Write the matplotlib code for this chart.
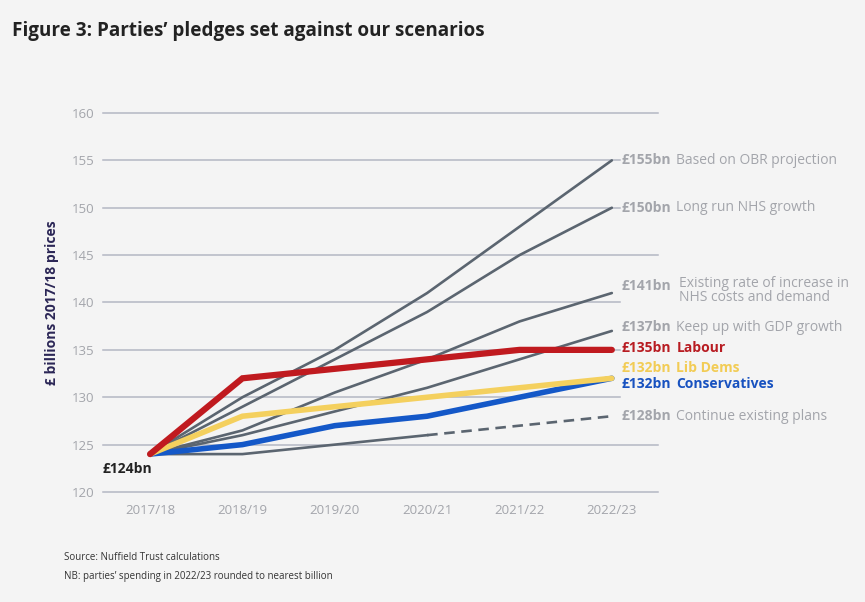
import matplotlib
matplotlib.use("Agg")
from matplotlib import pyplot as plt

years = ["2017/18", "2018/19", "2019/20", "2020/21", "2021/22", "2022/23"]

obr = [124, 130, 135, 141, 148, 155]
long_run = [124, 129, 134, 139, 145, 150]
existing_rate = [124, 126.5, 130.5, 134, 138, 141]
gdp = [124, 126, 128.5, 131, 134, 137]
continue_plans = [124, 124, 125, 126, 127, 128]
labour = [124, 132, 133, 134, 135, 135]
lib_dems = [124, 128, 129, 130, 131, 132]
conservatives = [124, 125, 127, 128, 130, 132]

yticks = [120, 125, 130, 135, 140, 145, 150, 155, 160]

bg = "#f4f4f4"
grey_line = "#5b6570"
grid_col = "#b4b7c3"
label_grey = "#a3a5ab"

plt.rcParams["font.family"] = ["Open Sans", "DejaVu Sans"]

fig = plt.figure(figsize=(8.65, 6.02), dpi=100, facecolor=bg)
ax = fig.add_axes([103 / 865, 110 / 602, 555 / 865, 379 / 602], facecolor=bg)

x = list(range(len(years)))

# gridlines - some are hidden behind the end labels
short = (130, 135, 140, 150, 155)
for y in yticks:
    ax.axhline(y, xmin=0, xmax=(517 / 555 if y in short else 1), color=grid_col,
               lw=1.1, zorder=0, clip_on=False)

# scenario lines
for series in [obr, long_run, existing_rate, gdp]:
    ax.plot(x, series, color=grey_line, lw=1.9, zorder=2, solid_capstyle="round")
ax.plot(x[:4], continue_plans[:4], color=grey_line, lw=1.9, zorder=2)
ax.plot(x[3:], continue_plans[3:], color=grey_line, lw=1.9, zorder=2, ls=(0, (4, 2.5)))

# party pledges
ax.plot(x, conservatives, color="#1458c8", lw=4, zorder=3, solid_capstyle="round")
ax.plot(x, lib_dems, color="#f4d05e", lw=4, zorder=4, solid_capstyle="round")
ax.plot(x, labour, color="#c01a1f", lw=4.5, zorder=5, solid_capstyle="round",
        solid_joinstyle="miter")

ax.set_xlim(-0.51, 5.5)
ax.set_ylim(120, 160)
ax.set_xticks(x)
ax.set_xticklabels(years)
ax.set_yticks(yticks)
ax.tick_params(axis="both", length=0, colors=label_grey, labelsize=9.5)
ax.tick_params(axis="x", pad=9)
ax.tick_params(axis="y", pad=6)
for s in ax.spines.values():
    s.set_visible(False)

ax.set_ylabel("£ billions 2017/18 prices", fontsize=10, fontweight="bold",
              color="#2b2656", labelpad=9)

# end labels: (value, text offset in data units, bold colour, description, desc colour, desc bold)
end_labels = [
    (obr[-1], 0, label_grey, "Based on OBR projection", label_grey, False),
    (long_run[-1], 0, label_grey, "Long run NHS growth", label_grey, False),
    (existing_rate[-1], 0.75, label_grey, "Existing rate of increase in\nNHS costs and demand", label_grey, False),
    (gdp[-1], 0.4, label_grey, "Keep up with GDP growth", label_grey, False),
    (labour[-1], 0.2, "#b81c22", "Labour", "#b81c22", True),
    (lib_dems[-1], 1.1, "#f2cc55", "Lib Dems", "#f2cc55", True),
    (conservatives[-1], -0.6, "#1852c0", "Conservatives", "#1852c0", True),
    (continue_plans[-1], 0, label_grey, "Continue existing plans", label_grey, False),
]
for val, off, c1, desc, c2, b in end_labels:
    ax.annotate("£%dbn" % round(val), xy=(5, val + off), xytext=(7, 0),
                textcoords="offset points", ha="left", va="center",
                fontsize=10, fontweight="bold", color=c1, annotation_clip=False)
    if "\n" in desc:
        ax.annotate(desc, xy=(5, val + off), xytext=(48.5, 7.5),
                    textcoords="offset points", ha="left", va="top",
                    fontsize=10, color=c2, linespacing=0.95,
                    annotation_clip=False)
    else:
        ax.annotate(desc, xy=(5, val + off), xytext=(46.5, 0),
                    textcoords="offset points", ha="left", va="center",
                    fontsize=10, fontweight="bold" if b else "normal", color=c2,
                    annotation_clip=False)

ax.annotate("£124bn", xy=(0, obr[0]), xytext=(-34, -11), textcoords="offset points",
            ha="left", va="center", fontsize=10, fontweight="bold", color="#222222")

fig.text(12 / 865, 1 - 31 / 602, "Figure 3: Parties’ pledges set against our scenarios",
         fontsize=13.6, fontweight="bold", color="#222222", va="center")
fig.text(64 / 865, 1 - 558 / 602, "Source: Nuffield Trust calculations",
         fontsize=7, color="#333333", va="center")
fig.text(64 / 865, 1 - 576 / 602, "NB: parties’ spending in 2022/23 rounded to nearest billion",
         fontsize=7, color="#333333", va="center")

fig.savefig("out.png", dpi=100, facecolor=bg)
